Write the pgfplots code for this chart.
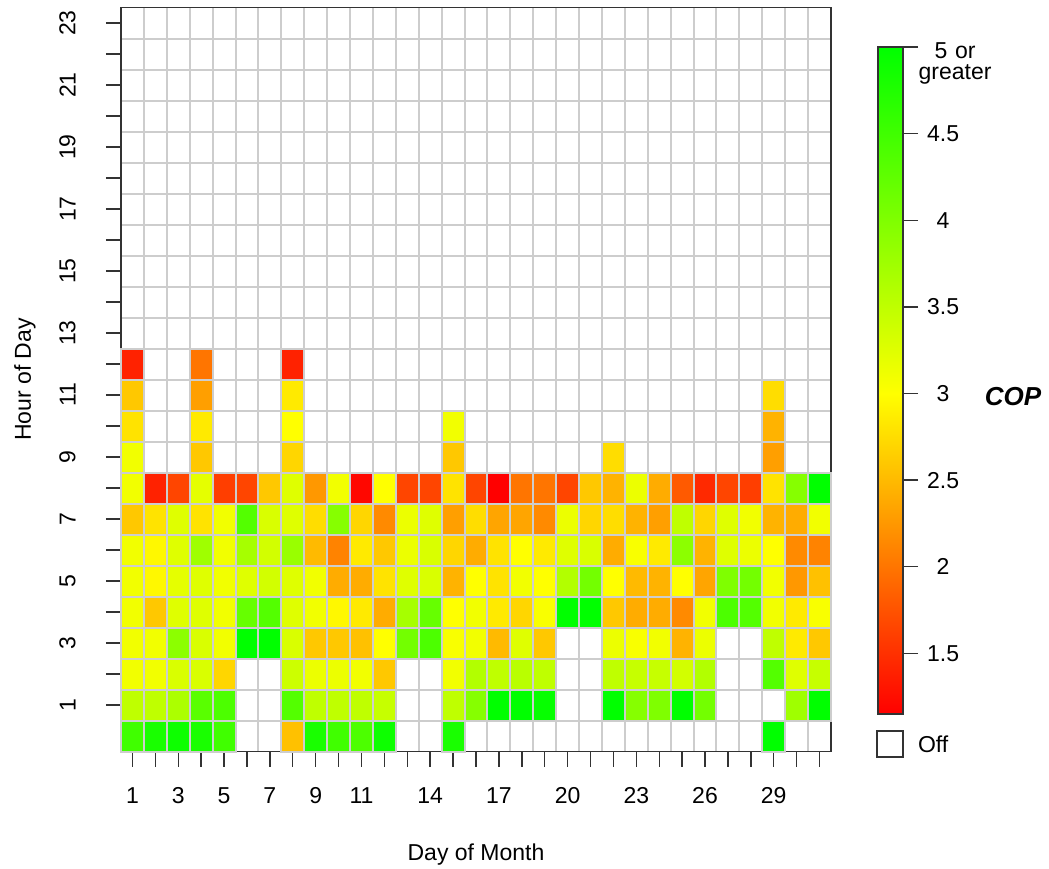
\documentclass[border=0pt]{standalone}
\usepackage{fontspec}
\setmainfont{Liberation Sans}
\usepackage{pgfplots}
\usepackage{pgfplotstable}
\pgfplotsset{compat=1.18}

\definecolor{gridgray}{RGB}{205,205,205}
\pgfplotsset{colormap={cop}{rgb255(0cm)=(255,0,0) rgb255(1.85cm)=(255,255,0) rgb255(3.85cm)=(0,255,0)}}

% one cell of the heat map: 355pt/31 wide, 372pt/24 high
\pgfdeclareplotmark{cell}{%
  \pgfpathrectangle{\pgfpoint{-5.7258pt}{-7.75pt}}{\pgfpoint{11.4516pt}{15.5pt}}%
  \pgfusepathqfillstroke}

\pgfplotstableread{
day hour cop
1 0 4.5
1 1 3.5
1 2 3.1
1 3 3.1
1 4 3.1
1 5 3.1
1 6 3.1
1 7 2.6
1 8 3.1
1 9 3.1
1 10 2.8
1 11 2.6
1 12 1.4
2 0 4.8
2 1 3.5
2 2 3.1
2 3 3.1
2 4 2.6
2 5 2.95
2 6 2.95
2 7 2.8
2 8 1.4
3 0 4.9
3 1 3.65
3 2 3.3
3 3 3.9
3 4 3.25
3 5 3.2
3 6 3.25
3 7 3.25
3 8 1.65
4 0 4.8
4 1 4.3
4 2 3.3
4 3 3.3
4 4 3.25
4 5 3.25
4 6 3.75
4 7 2.8
4 8 3.2
4 9 2.6
4 10 2.85
4 11 2.3
4 12 2.0
5 0 4.5
5 1 4.4
5 2 2.7
5 3 3.1
5 4 3.1
5 5 3.1
5 6 3.1
5 7 3.1
5 8 1.6
6 3 5.0
6 4 4.2
6 5 3.25
6 6 3.7
6 7 4.35
6 8 1.65
7 3 5.0
7 4 4.35
7 5 3.35
7 6 3.35
7 7 3.3
7 8 2.6
8 0 2.55
8 1 4.35
8 2 3.4
8 3 3.3
8 4 3.25
8 5 3.25
8 6 3.8
8 7 3.25
8 8 3.25
8 9 2.7
8 10 3.0
8 11 2.85
8 12 1.4
9 0 4.8
9 1 3.5
9 2 3.15
9 3 2.6
9 4 3.1
9 5 3.1
9 6 2.5
9 7 2.75
9 8 2.25
10 0 4.5
10 1 3.5
10 2 3.15
10 3 2.6
10 4 2.95
10 5 2.4
10 6 2.1
10 7 3.95
10 8 3.1
11 0 4.4
11 1 3.5
11 2 3.1
11 3 2.55
11 4 2.85
11 5 2.4
11 6 2.85
11 7 2.7
11 8 1.2
12 0 4.9
12 1 3.45
12 2 2.6
12 3 3.0
12 4 2.4
12 5 2.8
12 6 2.6
12 7 2.15
12 8 3.0
13 3 4.1
13 4 3.7
13 5 3.25
13 6 3.15
13 7 3.15
13 8 1.65
14 3 4.4
14 4 4.2
14 5 3.3
14 6 3.3
14 7 3.25
14 8 1.65
15 0 4.8
15 1 3.5
15 2 3.1
15 3 3.05
15 4 3.0
15 5 2.45
15 6 2.7
15 7 2.3
15 8 2.8
15 9 2.6
15 10 3.1
16 1 3.95
16 2 3.6
16 3 3.1
16 4 3.1
16 5 3.0
16 6 2.4
16 7 2.75
16 8 1.65
17 1 5.0
17 2 3.5
17 3 2.5
17 4 2.85
17 5 2.8
17 6 2.8
17 7 2.35
17 8 1.15
18 1 5.0
18 2 3.55
18 3 3.25
18 4 2.7
18 5 3.1
18 6 3.0
18 7 2.35
18 8 2.0
19 1 4.95
19 2 3.5
19 3 2.6
19 4 3.05
19 5 3.0
19 6 2.85
19 7 2.15
19 8 2.0
20 4 5.0
20 5 3.6
20 6 3.25
20 7 3.15
20 8 1.65
21 4 5.0
21 5 4.1
21 6 3.3
21 7 2.7
21 8 2.6
22 1 5.0
22 2 3.5
22 3 3.15
22 4 2.6
22 5 3.0
22 6 2.4
22 7 2.75
22 8 2.45
22 9 2.75
23 1 3.95
23 2 3.45
23 3 3.05
23 4 2.4
23 5 2.5
23 6 3.05
23 7 2.45
23 8 3.15
24 1 4.0
24 2 3.45
24 3 3.1
24 4 2.4
24 5 2.45
24 6 2.85
24 7 2.3
24 8 2.4
25 1 5.0
25 2 3.35
25 3 2.45
25 4 2.15
25 5 3.0
25 6 3.9
25 7 3.5
25 8 1.8
26 1 4.1
26 2 3.6
26 3 3.15
26 4 3.1
26 5 2.35
26 6 2.45
26 7 2.7
26 8 1.45
27 4 4.4
27 5 4.0
27 6 3.25
27 7 3.25
27 8 1.65
28 4 4.35
28 5 4.1
28 6 3.15
28 7 3.1
28 8 1.6
29 0 5.0
29 2 4.35
29 3 3.5
29 4 3.1
29 5 3.1
29 6 3.0
29 7 2.45
29 8 2.8
29 9 2.3
29 10 2.45
29 11 2.75
30 1 3.75
30 2 3.25
30 3 2.85
30 4 2.85
30 5 2.25
30 6 2.15
30 7 2.4
30 8 3.95
31 1 5.0
31 2 3.45
31 3 2.6
31 4 3.05
31 5 2.55
31 6 2.1
31 7 3.1
31 8 5.0
}\copdata

\begin{document}
\begin{tikzpicture}[font=\fontsize{11.5}{13}\selectfont]
\path[use as bounding box] (-60.5pt,-58.25pt) rectangle (464pt,375.75pt);
\begin{axis}[
  at={(0,0)}, anchor=south west,
  scale only axis, width=355pt, height=372pt,
  axis on top,
  xmin=0.5, xmax=31.5, ymin=-0.5, ymax=23.5,
  xtick={1,...,31},
  xticklabels={1,,3,,5,,7,,9,,11,,,14,,,17,,,20,,,23,,,26,,,29,,},
  ytick={1,...,23},
  yticklabels={1,,3,,5,,7,,9,,11,,13,,15,,17,,19,,21,,23},
  minor xtick={1.5,2.5,...,30.5},
  minor ytick={0.5,1.5,...,22.5},
  xminorgrids, yminorgrids,
  minor grid style={gridgray, line width=1pt},
  minor tick length=0pt,
  tick align=outside, major tick length=7.5pt,
  xtick pos=bottom, ytick pos=left,
  tick style={black!80, line width=0.7pt},
  axis line style={black!80, line width=0.7pt},
  xticklabel shift=7pt,
  yticklabel style={rotate=90, anchor=south},
  yticklabel shift=11.7pt,
  xlabel={Day of Month}, ylabel={Hour of Day},
  xlabel style={at={(axis description cs:0.5,-0.1391)}, anchor=center},
  ylabel style={at={(axis description cs:-0.1352,0.5)}, anchor=center},
  colormap name=cop, point meta min=1.15, point meta max=5,
  colorbar,
  colorbar style={
    scale only axis,
    at={(parent axis.south east)}, anchor=south west,
    xshift=15pt, yshift=18.75pt,
    width=12.5pt, height=333.5pt,
    ytick={1.5,2,2.5,3,3.5,4,4.5,5},
    yticklabels={1.5,2,2.5,3,3.5,4,4.5,{\raisebox{-16.5pt}[0pt][0pt]{\makebox[0pt][c]{\kern12pt\shortstack{5 or\\greater}}}}},
    ytick pos=right,
    tick align=outside, major tick length=7.5pt,
    tick style={black!80, line width=0.7pt},
    axis line style={black!80, line width=0.7pt},
    yticklabel style={text width=18pt, align=center},
  },
]
\addplot[scatter, only marks, mark=cell, line width=1pt,
  point meta=explicit,
  scatter/use mapped color={draw=gridgray, fill=mapped color}]
  table[x=day, y=hour, meta=cop] {\copdata};
\end{axis}
\node[font=\fontsize{13}{15}\selectfont\bfseries\itshape] at (446pt,177.25pt) {COP};
\draw[black!80, line width=0.7pt] (378pt,-2.75pt) rectangle (391pt,10.25pt);
\node[anchor=west] at (395pt,3.75pt) {Off};
\end{tikzpicture}
\end{document}
